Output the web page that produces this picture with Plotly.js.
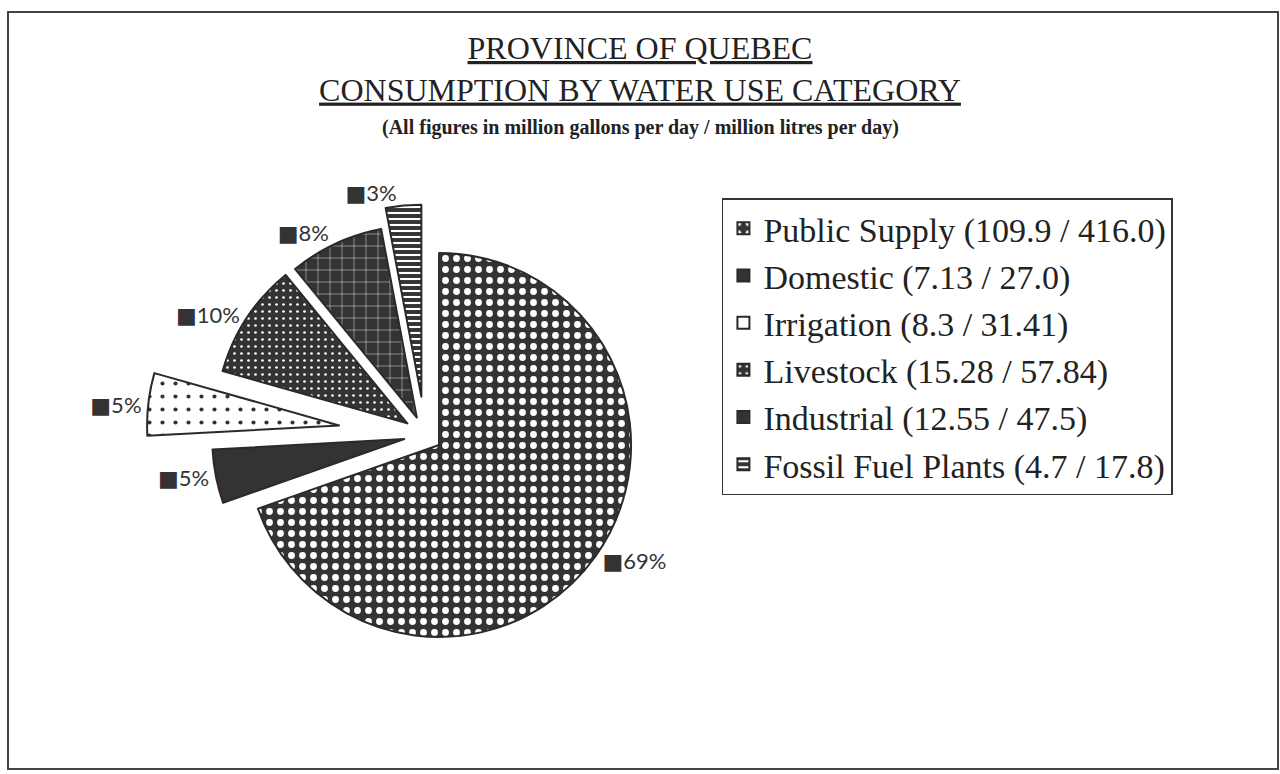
<!DOCTYPE html>
<html>
<head>
<meta charset="utf-8">
<script src="https://cdn.plot.ly/plotly-3.0.1.min.js"></script>
<style>html,body{margin:0;padding:0;background:#fff;}#chart{width:1280px;height:774px;}</style>
</head>
<body>
<div id="chart"></div>
<script>
// Data
const categories = ['Public Supply', 'Domestic', 'Irrigation', 'Livestock', 'Industrial', 'Fossil Fuel Plants'];
const gallonsPerDay = [109.9, 7.13, 8.3, 15.28, 12.55, 4.7];
const gallonsText = ['109.9', '7.13', '8.3', '15.28', '12.55', '4.7'];
const litresPerDayText = ['416.0', '27.0', '31.41', '57.84', '47.5', '17.8'];
const percentLabels = ['69%', '5%', '5%', '10%', '8%', '3%'];

const legendLabels = categories.map((c, i) => c + ' (' + gallonsText[i] + ' / ' + litresPerDayText[i] + ')');
const sliceText = percentLabels.map(p => '\u25A0' + p);

const dark = '#333333';
const serif = '"Liberation Serif", "DejaVu Serif", serif';
const trace = {
  type: 'pie',
  labels: legendLabels,
  values: gallonsPerDay,
  text: sliceText,
  textinfo: 'text',
  textposition: 'outside',
  textfont: {family: 'Lato, "DejaVu Sans", sans-serif', size: 22, color: '#333'},
  sort: false,
  direction: 'clockwise',
  rotation: 0,
  pull: [0.09, 0.11, 0.45, 0.11, 0.1, 0.2],
  marker: {
    colors: [dark, dark, '#ffffff', dark, dark, dark],
    line: {color: '#2a2a2a', width: 2},
    pattern: {
      shape: ['.', '', '.', '.', '+', '-'],
      fgcolor: ['#ffffff', dark, dark, '#ffffff', '#ffffff', '#ffffff'],
      bgcolor: [dark, dark, '#ffffff', dark, dark, dark],
      size: [11, 8, 13, 7, 12, 6],
      solidity: [0.3, 0.3, 0.08, 0.12, 0.07, 0.35],
      fillmode: 'replace'
    }
  },
  domain: {x: [0.1145, 0.5495], y: [0.0783, 0.7977]},
  hoverinfo: 'none'
};

const layout = {
  width: 1280,
  height: 774,
  margin: {l: 0, r: 0, t: 0, b: 0},
  paper_bgcolor: '#ffffff',
  plot_bgcolor: '#ffffff',
  showlegend: true,
  title: {
    text: '<u>PROVINCE OF QUEBEC</u><br><u>CONSUMPTION BY WATER USE CATEGORY</u>',
    font: {family: serif, size: 32, color: '#222'},
    x: 0.5, xanchor: 'center',
    y: 1 - 59 / 774, yanchor: 'middle', yref: 'container'
  },
  legend: {
    x: 0.564, xanchor: 'left',
    y: 0.744, yanchor: 'top',
    bordercolor: '#333', borderwidth: 1.5,
    bgcolor: '#ffffff',
    font: {family: serif, size: 34, color: '#222'},
    itemclick: false
  },
  annotations: [{
    text: '<b>(All figures in million gallons per day / million litres per day)</b>',
    xref: 'paper', yref: 'paper',
    x: 0.5, y: 1 - 127 / 774, xanchor: 'center', yanchor: 'middle',
    showarrow: false,
    font: {family: serif, size: 20, color: '#222'}
  }],
  shapes: [{
    type: 'rect', xref: 'paper', yref: 'paper',
    x0: 8 / 1280, x1: 1278 / 1280, y0: 1 - 769 / 774, y1: 1 - 12 / 774,
    line: {color: '#444', width: 2}, fillcolor: 'rgba(0,0,0,0)'
  }]
};

Plotly.newPlot('chart', [trace], layout, {staticPlot: true, displayModeBar: false});
</script>
</body>
</html>
